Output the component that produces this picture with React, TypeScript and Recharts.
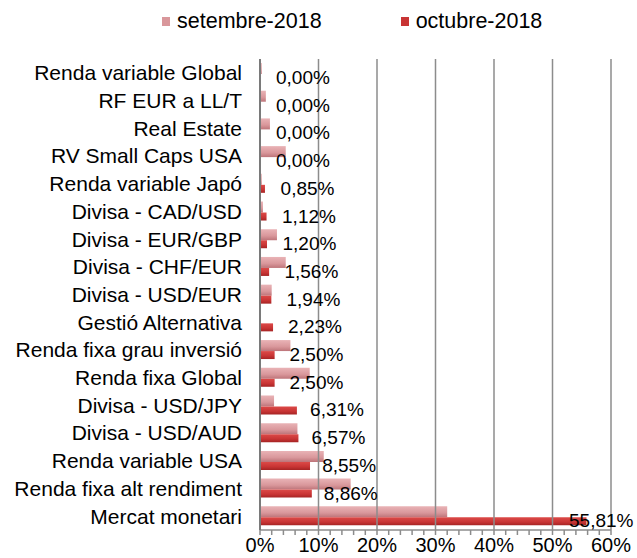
import {
  BarChart,
  Bar,
  XAxis,
  YAxis,
  Legend,
  ReferenceLine,
  LabelList,
} from "recharts";

const CATEGORIES = [
  "Renda variable Global",
  "RF EUR a LL/T",
  "Real Estate",
  "RV Small Caps USA",
  "Renda variable Japó",
  "Divisa - CAD/USD",
  "Divisa - EUR/GBP",
  "Divisa - CHF/EUR",
  "Divisa - USD/EUR",
  "Gestió Alternativa",
  "Renda fixa grau inversió",
  "Renda fixa Global",
  "Divisa - USD/JPY",
  "Divisa - USD/AUD",
  "Renda variable USA",
  "Renda fixa alt rendiment",
  "Mercat monetari",
];

// setembre-2018
const SEP_VALUES = [0.3, 1.0, 1.7, 4.4, 0.3, 0.5, 2.9, 4.4, 2.0, 0, 5.2, 8.5, 2.4, 6.4, 10.9, 15.5, 32.0];
// octubre-2018 (from the data labels)
const OCT_VALUES = [0, 0, 0, 0, 0.85, 1.12, 1.2, 1.56, 1.94, 2.23, 2.5, 2.5, 6.31, 6.57, 8.55, 8.86, 55.81];

const MAJOR_TICKS = [10, 20, 30, 40, 50, 60];
const MINOR_TICKS = [0, 2, 4, 6, 8, 10, 12, 14, 16, 18, 20, 22, 24, 26, 28, 30, 32, 34, 36, 38, 40, 42, 44, 46, 48, 50, 52, 54, 56, 58, 60];

const SERIES = [
  { key: "sep", name: "setembre-2018", color: "#d9979b" },
  { key: "oct", name: "octubre-2018", color: "#c83434" },
];

const data = CATEGORIES.map((name, i) => ({
  name,
  sep: SEP_VALUES[i],
  oct: OCT_VALUES[i],
}));

const FONT = "'Liberation Sans', Arial, sans-serif";

function fmtPct(v: number) {
  return v.toFixed(2).replace(".", ",") + "%";
}

function LegendContent() {
  return (
    <div
      style={{
        height: 50,
        display: "flex",
        alignItems: "flex-start",
        paddingLeft: 162,
        paddingTop: 1,
        fontFamily: FONT,
        fontSize: 21.5,
        color: "#000",
      }}
    >
      {SERIES.map((s, i) => (
        <div
          key={s.key}
          style={{ display: "flex", alignItems: "center", marginRight: i === 0 ? 79 : 0 }}
        >
          <span
            style={{
              display: "inline-block",
              width: 8,
              height: 9,
              marginRight: 7,
              background: s.color,
            }}
          />
          <span>{s.name}</span>
        </div>
      ))}
    </div>
  );
}

// eslint-disable-next-line @typescript-eslint/no-explicit-any
function ValueLabel(props: any) {
  const { x, y, width, height, value } = props;
  const w = Number(width) || 0;
  // keep the widest label inside the 637px frame
  const lx = Math.min(Number(x) + w * 0.923 + 16, 569);
  return (
    <text
      x={lx}
      y={Number(y) + (Number(height) || 8) / 2 + 1}
      dominantBaseline="middle"
      fontSize={19}
      fontFamily={FONT}
      fill="#000"
    >
      {fmtPct(Number(value) || 0)}
    </text>
  );
}

export default function App() {
  return (
    <div style={{ position: "absolute", left: 0, top: 0 }}>
      <BarChart
        width={637}
        height={558}
        data={data}
        layout="vertical"
        margin={{ top: 8, right: 26, left: 0, bottom: 0 }}
        barGap={0}
        barCategoryGap={0}
      >
        <defs>
          <linearGradient id="gSep" x1="0" y1="0" x2="0" y2="1">
            <stop offset="0%" stopColor="#e9b3b6" />
            <stop offset="60%" stopColor="#d9979b" />
            <stop offset="100%" stopColor="#bd7479" />
          </linearGradient>
          <linearGradient id="gOct" x1="0" y1="0" x2="0" y2="1">
            <stop offset="0%" stopColor="#dc4a48" />
            <stop offset="60%" stopColor="#c83434" />
            <stop offset="100%" stopColor="#a52424" />
          </linearGradient>
        </defs>
        <Legend verticalAlign="top" align="left" content={<LegendContent />} />
        <XAxis
          type="number"
          domain={[0, 60]}
          ticks={MINOR_TICKS}
          interval={0}
          tickFormatter={(v: number) => (v % 10 === 0 ? `${v}%` : "")}
          tick={{ fontSize: 20, fill: "#000", fontFamily: FONT }}
          tickSize={5}
          tickMargin={3}
          height={28}
          stroke="#8c8c8c"
          axisLine={{ stroke: "#8c8c8c", strokeWidth: 1.5 }}
          tickLine={{ stroke: "#8c8c8c", strokeWidth: 1.5 }}
        />
        <YAxis
          type="category"
          dataKey="name"
          width={260}
          tickLine={false}
          tickSize={0}
          tickMargin={18}
          interval={0}
          tick={{ fontSize: 21, fill: "#000", fontFamily: FONT }}
          axisLine={{ stroke: "#7a7a7a", strokeWidth: 2 }}
        />
        {MAJOR_TICKS.map((t) => (
          <ReferenceLine key={t} x={t} stroke="#8c8c8c" strokeWidth={1.5} />
        ))}
        <Bar
          dataKey="sep"
          name="setembre-2018"
          fill="url(#gSep)"
          barSize={11}
          isAnimationActive={false}
        />
        <Bar
          dataKey="oct"
          name="octubre-2018"
          fill="url(#gOct)"
          barSize={8}
          minPointSize={0.01}
          isAnimationActive={false}
        >
          <LabelList dataKey="oct" content={<ValueLabel />} />
        </Bar>
      </BarChart>
    </div>
  );
}
